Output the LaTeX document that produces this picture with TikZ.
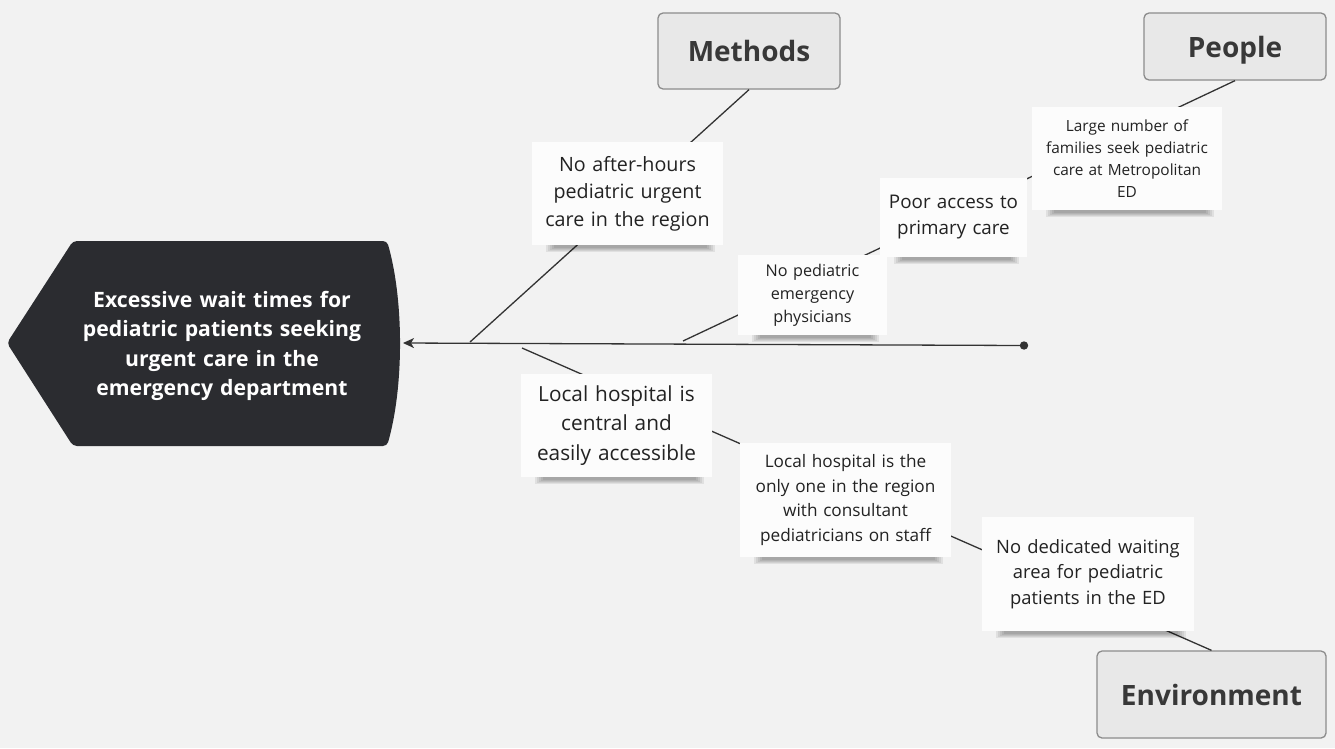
\documentclass[tikz,border=0pt]{standalone}
\usepackage{fontspec}
\setmainfont{Open Sans}
\usetikzlibrary{arrows.meta,calc}
\definecolor{bg}{HTML}{F2F2F2}
\definecolor{headc}{HTML}{2B2C30}
\definecolor{catfill}{HTML}{E8E8E8}
\definecolor{catdraw}{HTML}{8C8C8C}
\definecolor{notefill}{HTML}{FCFCFC}
\definecolor{ink}{HTML}{222222}
\definecolor{linec}{HTML}{333333}
\newcommand\notebox[7]{%
  \foreach \k in {0,...,4}{%
    \fill[black,opacity=0.07] ({#2-#4/2+14+2*\k},{#3+#5/2-10}) rectangle ({#2+#4/2-8-2*\k},{#3+#5/2+7-\k});
  }%
  \node[note, minimum width=#4pt, minimum height=#5pt, text width=#4pt-8pt, font=#6] (#1) at (#2,#3) {#7};
}
\begin{document}
\begin{tikzpicture}[x=1pt,y=-1pt,
  bone/.style={draw=linec, line width=1.3pt},
  cat/.style={draw=catdraw, fill=catfill, line width=1.3pt, rounded corners=5pt,
    font=\fontsize{28}{32}\selectfont\bfseries, text=ink!90!white, inner sep=0pt, text depth=0pt},
  note/.style={fill=notefill, draw=none, align=center, text=ink, inner sep=0pt},
  headtext/.style={align=center, text=white, text width=310pt,
    font=\fontsize{21.2}{29.5}\selectfont\bfseries},
]
\useasboundingbox[fill=bg] (0,0) rectangle (1335,748);

% category boxes
\node[cat, minimum width=182pt, minimum height=76pt] (meth) at (749,51) {Methods};
\node[cat, minimum width=182pt, minimum height=67pt] (peop) at (1235,46.5) {People};
\node[cat, minimum width=229pt, minimum height=87pt] (envi) at (1211.5,694.5) {Environment};

% spine points
\coordinate (m1) at (470,342);
\coordinate (p1) at (683,341);
\coordinate (e1) at (522,348);
\coordinate (dot) at (1024,345.5);
\coordinate (tip) at (403,343);

% bones
\draw[bone] (meth.south) -- (m1);
\draw[bone] (peop.south) -- (p1);
\draw[bone] (envi.north) -- (e1);

% spine
\draw[bone, -{Stealth[length=11pt,width=10pt,inset=3pt]}] (dot) -- (tip);
\fill[linec] (dot) circle (4.2);

% notes
\notebox{n1}{627.5}{193.5}{191}{103}{\fontsize{19.7}{27.5}\selectfont}{No after-hours\\pediatric urgent\\care in the region}
\notebox{n2}{1127}{158.5}{190}{103}{\fontsize{15.4}{22}\selectfont}{Large number of\\families seek pediatric\\care at Metropolitan\\ED}
\notebox{n3}{953.5}{217.5}{147}{79}{\fontsize{18.8}{26}\selectfont}{Poor access to\\primary care}
\notebox{n4}{812.5}{295}{149}{80}{\fontsize{16.2}{23}\selectfont}{No pediatric\\emergency\\physicians}
\notebox{n5}{616.5}{425.5}{191}{103}{\fontsize{20.8}{29.5}\selectfont}{Local hospital is\\central and\\easily accessible}
\notebox{n6}{845.5}{500}{211}{114}{\fontsize{17.2}{24.5}\selectfont}{Local hospital is the\\only one in the region\\with consultant\\pediatricians on staff}
\notebox{n7}{1088}{574}{212}{114}{\fontsize{18.4}{25.5}\selectfont}{No dedicated waiting\\area for pediatric\\patients in the ED}

% head
\fill[headc, rounded corners=4pt] (7,343) -- (73,241) -- (387,241)
  .. controls (404,300) and (404,387) .. (387,446) -- (73,446) -- cycle;
\node[headtext] (head) at (222,346) {Excessive wait times for\\pediatric patients seeking\\urgent care in the\\emergency department};
\end{tikzpicture}
\end{document}
